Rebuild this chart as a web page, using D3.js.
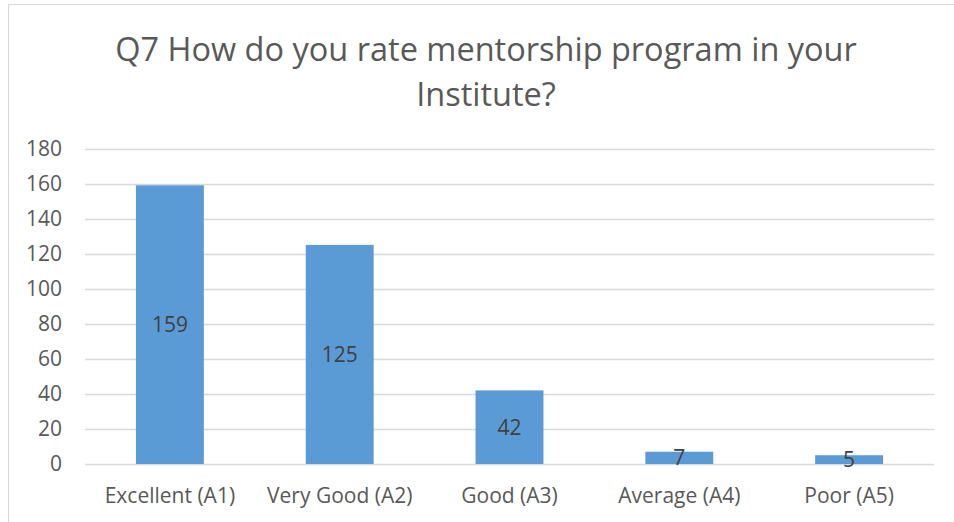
<!DOCTYPE html>
<html>
<head>
<meta charset="utf-8">
<script src="https://cdn.jsdelivr.net/npm/d3@7"></script>
<style>
  body { margin: 0; background: #fff; }
  text { font-family: "Open Sans", "Noto Sans", sans-serif; }
</style>
</head>
<body>
<div id="chart"></div>
<script>
const width = 954;
const height = 522;

// data
const categories = ["Excellent (A1)", "Very Good (A2)", "Good (A3)", "Average (A4)", "Poor (A5)"];
const counts = [159, 125, 42, 7, 5];
const yTicks = [0, 20, 40, 60, 80, 100, 120, 140, 160, 180];
const titleLines = ["Q7 How do you rate mentorship program in your", "Institute?"];

const margin = { top: 148.5, left: 85, bottom: 58, right: 20 };

const xScale = d3.scaleBand()
    .domain(categories)
    .range([margin.left, width - margin.right])
    .paddingInner(0.6)
    .paddingOuter(0.3);

const yScale = d3.scaleLinear()
    .domain([0, 180])
    .range([height - margin.bottom, margin.top]);

const svg = d3.select("#chart").append("svg")
    .attr("width", width)
    .attr("height", height);

// chart frame (runs off the right/bottom edge like the screenshot)
svg.append("rect")
    .attr("x", 8.5).attr("y", 4.5)
    .attr("width", width + 10).attr("height", height + 10)
    .attr("fill", "none")
    .attr("stroke", "#d9d9d9");

// title
svg.append("text")
    .attr("text-anchor", "middle")
    .attr("fill", "#595959")
    .attr("font-size", 32.5)
    .selectAll("tspan")
    .data(titleLines)
    .join("tspan")
    .attr("x", 486)
    .attr("y", (d, i) => 61 + i * 45)
    .text(d => d);

// gridlines
svg.append("g")
    .selectAll("line")
    .data(yTicks)
    .join("line")
    .attr("x1", margin.left)
    .attr("x2", width - margin.right)
    .attr("y1", d => Math.round(yScale(d)) + 0.5)
    .attr("y2", d => Math.round(yScale(d)) + 0.5)
    .attr("stroke", "#d9d9d9")
    .attr("stroke-width", 1.5);

// y axis labels
const yAxis = d3.axisLeft(yScale).tickValues(yTicks).tickSize(0).tickPadding(0);
const yg = svg.append("g")
    .attr("transform", `translate(${margin.left - 23},0)`)
    .call(yAxis);
yg.select(".domain").remove();
yg.selectAll("text")
    .attr("fill", "#595959")
    .attr("font-size", 21);

// bars
svg.append("g")
    .selectAll("rect")
    .data(counts)
    .join("rect")
    .attr("x", (d, i) => xScale(categories[i]))
    .attr("y", d => yScale(d))
    .attr("width", xScale.bandwidth())
    .attr("height", d => yScale(0) - yScale(d))
    .attr("fill", "#5b9bd5");

// value labels centred in bars
svg.append("g")
    .selectAll("text")
    .data(counts)
    .join("text")
    .attr("x", (d, i) => xScale(categories[i]) + xScale.bandwidth() / 2)
    .attr("y", d => (yScale(d) + yScale(0)) / 2)
    .attr("dy", "0.36em")
    .attr("text-anchor", "middle")
    .attr("fill", "#404040")
    .attr("font-size", 21)
    .text(d => d);

// x axis labels
const xAxis = d3.axisBottom(xScale).tickSize(0).tickPadding(0);
const xg = svg.append("g")
    .attr("transform", `translate(0,${yScale(0) + 24})`)
    .call(xAxis);
xg.select(".domain").remove();
xg.selectAll("text")
    .attr("fill", "#595959")
    .attr("font-size", 21);
</script>
</body>
</html>
